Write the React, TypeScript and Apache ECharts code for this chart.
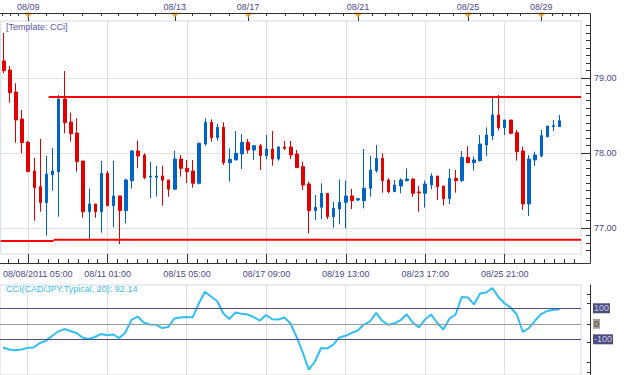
import { useEffect, useRef } from "react";
import * as echarts from "echarts";

// ---------- data ----------
const slotCount = 95;
const categories: string[] = Array.from({ length: slotCount }, (_, i) => String(i));

// [open, close, low, high]
const ohlc: number[][] = [
  [79.227, 79.097, 79.063, 79.6],
  [79.107, 78.804, 78.671, 79.16],
  [78.813, 78.44, 78.137, 78.929],
  [78.453, 78.137, 77.996, 78.573],
  [78.143, 77.751, 77.745, 78.16],
  [77.76, 77.537, 77.097, 77.937],
  [77.551, 77.337, 77.217, 78.187],
  [77.337, 77.72, 76.897, 77.96],
  [77.711, 77.76, 77.497, 78.067],
  [77.751, 78.72, 77.151, 78.773],
  [78.72, 78.404, 78.263, 79.093],
  [78.413, 78.257, 78.151, 78.537],
  [78.267, 77.884, 77.751, 78.463],
  [77.893, 77.217, 77.137, 77.893],
  [77.217, 77.32, 76.853, 77.524],
  [77.32, 77.217, 77.137, 77.32],
  [77.217, 77.729, 76.937, 77.893],
  [77.729, 77.297, 77.297, 77.76],
  [77.297, 77.427, 77.009, 77.893],
  [77.427, 77.231, 76.783, 77.427],
  [77.231, 77.64, 77.063, 77.658],
  [77.631, 78.027, 77.524, 78.04],
  [78.027, 77.96, 77.796, 78.164],
  [77.973, 77.671, 77.649, 77.996],
  [77.68, 77.693, 77.396, 77.88],
  [77.676, 77.693, 77.417, 77.831],
  [77.693, 77.636, 77.297, 77.831],
  [77.64, 77.516, 77.417, 77.64],
  [77.516, 77.92, 77.516, 78.031],
  [77.92, 77.796, 77.684, 77.973],
  [77.796, 77.751, 77.6, 77.907],
  [77.76, 77.596, 77.537, 77.907],
  [77.596, 78.129, 77.58, 78.14],
  [78.12, 78.409, 78.097, 78.462],
  [78.409, 78.204, 78.151, 78.449],
  [78.204, 78.342, 78.164, 78.387],
  [78.342, 77.871, 77.84, 78.409],
  [77.871, 77.916, 77.617, 78.062],
  [77.907, 77.996, 77.907, 78.293],
  [77.987, 78.142, 77.787, 78.253],
  [78.142, 78.04, 77.996, 78.187],
  [78.04, 78.097, 77.907, 78.097],
  [78.097, 77.964, 77.773, 78.12],
  [77.964, 78.053, 77.916, 78.24],
  [78.053, 77.92, 77.831, 78.293],
  [77.92, 78.08, 77.898, 78.093],
  [78.08, 78.062, 78.04, 78.16],
  [78.08, 77.973, 77.92, 78.16],
  [77.987, 77.804, 77.804, 78.04],
  [77.818, 77.573, 77.507, 77.884],
  [77.587, 77.231, 76.929, 77.617],
  [77.231, 77.276, 77.107, 77.44],
  [77.276, 77.462, 77.116, 77.596],
  [77.462, 77.151, 77.12, 77.462],
  [77.151, 77.262, 77.004, 77.351],
  [77.253, 77.342, 77.049, 77.649],
  [77.342, 77.427, 76.996, 77.631],
  [77.427, 77.364, 77.253, 77.52],
  [77.373, 77.391, 77.36, 77.4],
  [77.364, 77.529, 77.262, 78.053],
  [77.529, 77.773, 77.418, 77.96],
  [77.764, 77.929, 77.737, 78.107],
  [77.929, 77.631, 77.471, 77.996],
  [77.64, 77.484, 77.462, 77.662],
  [77.484, 77.573, 77.484, 77.64],
  [77.56, 77.64, 77.462, 77.662],
  [77.631, 77.653, 77.62, 77.796],
  [77.653, 77.462, 77.417, 77.662],
  [77.48, 77.467, 77.217, 77.56],
  [77.462, 77.587, 77.271, 77.631],
  [77.573, 77.693, 77.516, 77.729],
  [77.693, 77.551, 77.373, 77.693],
  [77.56, 77.391, 77.302, 77.56],
  [77.391, 77.662, 77.32, 77.787],
  [77.662, 77.631, 77.471, 77.773],
  [77.631, 77.942, 77.617, 78.027],
  [77.942, 77.871, 77.862, 78.093],
  [77.871, 77.907, 77.764, 77.951],
  [77.898, 78.12, 77.884, 78.24],
  [78.107, 78.24, 77.96, 78.342],
  [78.231, 78.507, 78.173, 78.751],
  [78.507, 78.338, 78.3, 78.773],
  [78.338, 78.44, 78.24, 78.44],
  [78.44, 78.262, 78.249, 78.44],
  [78.271, 78.017, 77.898, 78.307],
  [78.027, 77.32, 77.24, 78.084],
  [77.32, 77.92, 77.16, 77.973],
  [77.907, 77.973, 77.827, 78.017],
  [77.96, 78.231, 77.942, 78.307],
  [78.217, 78.36, 78.209, 78.36],
  [78.351, 78.364, 78.293, 78.44],
  [78.351, 78.43, 78.351, 78.507],
];

const cci: number[] = [
  -153, -166, -170, -166, -155, -153, -124, -110, -79, -50,
  -34, -46, -59, -88, -98, -85, -66, -74, -69, -92,
  -56, 25, 47, 8, -5, -6, -28, -21, 34, 41,
  43, 41, 131, 206, 176, 147, 68, 31, 73, 65,
  60, 43, 21, 57, 29, 28, 41, 2, -85, -185,
  -295, -243, -156, -159, -134, -88, -77, -59, -43, -5,
  15, 70, 19, -6, 3, 23, 61, 8, -24, 28,
  60, 5, -37, 34, 60, 173, 170, 125, 195, 202,
  231, 173, 131, 105, 60, -53, -27, 21, 63, 83,
  90, 92.14,
];

const bottomLabelIdx = [4, 17, 30, 43, 56, 69, 82];
const bottomLabels = [
  "08/08/2011 05:00",
  "08/11 01:00",
  "08/15 05:00",
  "08/17 09:00",
  "08/19 13:00",
  "08/23 17:00",
  "08/25 21:00",
];
const topLabelIdx = [4, 28, 40, 58, 76, 88];
const topLabels = ["08/09", "08/13", "08/17", "08/21", "08/25", "08/29"];
const topMinorIdx = [
  -0.3, 1, 2.4, 6.9, 9.8, 12.9, 15.9, 18.8, 21.9, 24.8, 30.9, 33.8, 36.9, 43, 46.1, 49, 51,
  53.3, 55.6, 60.3, 62.5, 64.6, 66.9, 69.2, 71.3, 73.6, 78, 80.1, 82.4, 84.5, 89.8, 91.4, 92.7, 94,
];

const resistance = [
  [7.35, 78.747],
  [94.5, 78.747],
];
const supportOld = [
  [-0.5, 76.827],
  [8.17, 76.827],
];
const supportNew = [
  [8.17, 76.844],
  [94.5, 76.844],
];

const priceTicks = [77, 78, 79];
const cciTicks = [190, 130, 0, -120, -250, -310];
const lastPrice = 78.43;

// ---------- styles ----------
const FONT = "'Liberation Sans', Arial, sans-serif";
const AXIS_TEXT = "#4a4a8e";
const UP = "#0063c6";
const DOWN = "#e00000";
const X_MIN = -0.5;
const X_MAX = slotCount - 0.5;
const Y_MIN = 76.653;
const Y_MAX = 79.76;
const C_MIN = -330;
const C_MAX = 250;

const priceMinor: number[] = [];
for (let v = 767; v <= 797; v++) priceMinor.push(v / 10);
const bottomMinor: number[] = [];
for (let k = -2; k <= 55; k++) bottomMinor.push(4 + 1.625 * k);

const hiddenAxisParts = {
  axisLine: { show: false, onZero: false },
  axisLabel: { show: false },
  splitLine: { show: false },
};

function buildOption(): any {
  const labelText = {
    color: AXIS_TEXT,
    fontSize: 9,
    fontFamily: FONT,
  };
  return {
    animation: false,
    backgroundColor: "#ffffff",
    textStyle: { fontFamily: FONT },
    title: [
      {
        text: "[Template: CCi]",
        left: 6,
        top: 22,
        padding: 0,
        textStyle: { fontSize: 9, fontWeight: "normal", color: "#5757a6", fontFamily: FONT },
      },
      {
        text: "CCI(CAD/JPY.Typical, 20): " + cci[cci.length - 1].toFixed(2),
        left: 6,
        top: 284,
        padding: 0,
        textStyle: { fontSize: 9, fontWeight: "normal", color: "#3dbcf0", fontFamily: FONT },
      },
    ],
    grid: [
      { left: 0, right: 44, top: 21, height: 233, show: true, borderColor: "#d3dbe5", borderWidth: 1, backgroundColor: "#fff" },
      { left: 0, right: 44, top: 285, height: 90, show: true, borderColor: "#d3dbe5", borderWidth: 1, backgroundColor: "#fff" },
    ],
    xAxis: [
      {
        type: "category",
        gridIndex: 0,
        data: categories,
        boundaryGap: true,
        axisTick: { show: false },
        ...hiddenAxisParts,
      },
      {
        type: "value",
        gridIndex: 0,
        position: "bottom",
        offset: 9,
        min: X_MIN,
        max: X_MAX,
        axisLine: { show: false, onZero: false },
        axisTick: { show: true, inside: true, length: 9, customValues: bottomLabelIdx, lineStyle: { color: "#333" } },
        axisLabel: {
          show: true,
          customValues: bottomLabelIdx,
          margin: 6,
          ...labelText,
          formatter: (v: number) => {
            const k = bottomLabelIdx.indexOf(Math.round(v));
            if (k < 0) return "";
            return k === 0 ? `{first|${bottomLabels[k]}}` : bottomLabels[k];
          },
          rich: { first: { padding: [0, 0, 0, 19], ...labelText } },
        },
        splitLine: { show: true, lineStyle: { color: "#dedede", width: 1 } },
      },
      {
        type: "value",
        gridIndex: 0,
        position: "bottom",
        offset: 9,
        min: X_MIN,
        max: X_MAX,
        axisTick: { show: true, inside: true, length: 4, customValues: bottomMinor, lineStyle: { color: "#333" } },
        ...hiddenAxisParts,
      },
      {
        type: "value",
        gridIndex: 0,
        position: "top",
        offset: 8,
        min: X_MIN,
        max: X_MAX,
        axisLine: { show: false, onZero: false },
        axisTick: { show: true, inside: true, length: 8, customValues: topLabelIdx, lineStyle: { color: "#333" } },
        axisLabel: {
          show: true,
          customValues: topLabelIdx,
          margin: 2,
          ...labelText,
          formatter: (v: number) => {
            const k = topLabelIdx.indexOf(Math.round(v));
            return k < 0 ? "" : topLabels[k];
          },
        },
        splitLine: { show: false },
      },
      {
        type: "value",
        gridIndex: 0,
        position: "top",
        offset: 8,
        min: X_MIN,
        max: X_MAX,
        axisTick: { show: true, inside: true, length: 3, customValues: topMinorIdx, lineStyle: { color: "#333" } },
        ...hiddenAxisParts,
      },
      {
        type: "value",
        gridIndex: 1,
        position: "bottom",
        min: X_MIN,
        max: X_MAX,
        axisLine: { show: false, onZero: false },
        axisTick: { show: true, length: 0, customValues: bottomLabelIdx, lineStyle: { opacity: 0 } },
        axisLabel: { show: false },
        splitLine: { show: true, lineStyle: { color: "#dedede", width: 1 } },
      },
    ],
    yAxis: [
      {
        type: "value",
        gridIndex: 0,
        position: "right",
        offset: 9,
        min: Y_MIN,
        max: Y_MAX,
        axisLine: { show: false, onZero: false },
        axisTick: { show: true, inside: true, length: 9, customValues: priceTicks, lineStyle: { color: "#333" } },
        axisLabel: {
          show: true,
          customValues: priceTicks,
          margin: 4,
          ...labelText,
          formatter: (v: number) => v.toFixed(2),
        },
        splitLine: { show: true, lineStyle: { color: "#e2e2e2", width: 1 } },
      },
      {
        type: "value",
        gridIndex: 0,
        position: "right",
        offset: 9,
        min: Y_MIN,
        max: Y_MAX,
        axisTick: { show: true, inside: true, length: 4, customValues: priceMinor, lineStyle: { color: "#333" } },
        ...hiddenAxisParts,
      },
      {
        type: "value",
        gridIndex: 1,
        position: "right",
        offset: 9,
        min: C_MIN,
        max: C_MAX,
        axisLine: { show: true, onZero: false, lineStyle: { color: "#333" } },
        axisTick: { show: true, inside: true, length: 3, customValues: cciTicks, lineStyle: { color: "#333" } },
        axisLabel: { show: false },
        splitLine: { show: false },
      },
    ],
    series: [
      {
        type: "candlestick",
        xAxisIndex: 0,
        yAxisIndex: 0,
        data: ohlc,
        barWidth: 3,
        silent: true,
        itemStyle: { color: UP, color0: DOWN, borderColor: UP, borderColor0: DOWN, borderWidth: 1 },
        markLine: {
          silent: true,
          symbol: ["none", "none"],
          data: [
            {
              yAxis: lastPrice,
              lineStyle: { width: 0, opacity: 0 },
              label: {
                show: true,
                position: "end",
                distance: 11,
                formatter: lastPrice.toFixed(3),
                backgroundColor: "#74cdf4",
                color: "#000",
                fontSize: 9,
                fontFamily: FONT,
                padding: [2, 1, 1, 1],
              },
            },
          ],
        },
      },
      {
        type: "line",
        xAxisIndex: 1,
        yAxisIndex: 0,
        data: resistance,
        symbol: "none",
        silent: true,
        lineStyle: { color: "#ff0000", width: 2 },
      },
      {
        type: "line",
        xAxisIndex: 1,
        yAxisIndex: 0,
        data: supportOld,
        symbol: "none",
        silent: true,
        lineStyle: { color: "#ff0000", width: 2 },
      },
      {
        type: "line",
        xAxisIndex: 1,
        yAxisIndex: 0,
        data: supportNew,
        symbol: "none",
        silent: true,
        lineStyle: { color: "#ff0000", width: 2 },
      },
      {
        type: "scatter",
        xAxisIndex: 3,
        yAxisIndex: 0,
        data: topLabelIdx.map((i) => [i, Y_MAX]),
        symbol: "path://M0,0L10,0L10,4L5,9L0,4Z",
        symbolSize: [6, 5],
        symbolOffset: [0, -6],
        clip: false,
        silent: true,
        itemStyle: { color: "#f5a21c" },
        z: 5,
      },
      {
        type: "line",
        xAxisIndex: 5,
        yAxisIndex: 2,
        data: cci.map((v, i) => [i, v]),
        symbol: "none",
        silent: true,
        lineStyle: { color: "#30bff5", width: 2 },
        z: 3,
        markLine: {
          silent: true,
          symbol: ["none", "none"],
          label: { show: true, position: "end", distance: 12, fontSize: 9, fontFamily: FONT, padding: [1, 1, 0, 1] },
          data: [
            {
              yAxis: 100,
              lineStyle: { color: "#4e4e80", width: 1, type: "solid" },
              label: { formatter: "100", backgroundColor: "#4e4e7e", color: "#c9cdef" },
            },
            {
              yAxis: 0,
              lineStyle: { color: "#9a9a9a", width: 1, type: "solid" },
              label: { formatter: "0", backgroundColor: "#a3a3a3", color: "#5a3e1a" },
            },
            {
              yAxis: -100,
              lineStyle: { color: "#4e4e80", width: 1, type: "solid" },
              label: { formatter: "-100", backgroundColor: "#4e4e7e", color: "#c9cdef" },
            },
          ],
        },
      },
    ],
    graphic: [
      {
        type: "polyline",
        z: 10,
        silent: true,
        shape: {
          points: [
            [0, 13.5],
            [590.5, 13.5],
            [590.5, 263.5],
            [0, 263.5],
          ],
        },
        style: { stroke: "#333", fill: "none", lineWidth: 1 },
      },
    ],
  };
}

export default function App() {
  const ref = useRef<HTMLDivElement>(null);
  useEffect(() => {
    if (!ref.current) return;
    const chart = echarts.init(ref.current, null, { renderer: "svg" });
    chart.setOption(buildOption());
    return () => chart.dispose();
  }, []);
  return (
    <div
      ref={ref}
      style={{ position: "fixed", left: 0, top: 0, width: 625, height: 375, background: "#fff" }}
    />
  );
}
